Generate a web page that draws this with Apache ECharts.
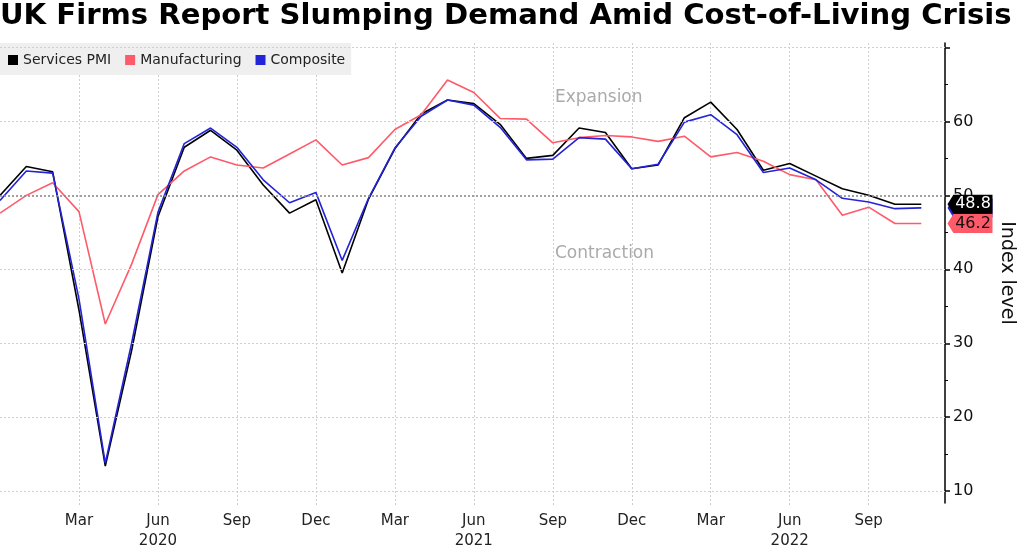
<!DOCTYPE html>
<html><head><meta charset="utf-8">
<script src="https://cdn.jsdelivr.net/npm/echarts@6/dist/echarts.min.js"></script>
<style>html,body{margin:0;padding:0;background:#fff}#c{width:1019px;height:550px}</style>
</head><body><div id="c"></div>
<script>
// Monthly, Dec 2019 .. Nov 2022 (index 0 = Dec 2019)
const months = ['Dec 2019','Jan 2020','Feb 2020','Mar 2020','Apr 2020','May 2020','Jun 2020','Jul 2020','Aug 2020','Sep 2020','Oct 2020','Nov 2020',
  'Dec 2020','Jan 2021','Feb 2021','Mar 2021','Apr 2021','May 2021','Jun 2021','Jul 2021','Aug 2021','Sep 2021','Oct 2021','Nov 2021',
  'Dec 2021','Jan 2022','Feb 2022','Mar 2022','Apr 2022','May 2022','Jun 2022','Jul 2022','Aug 2022','Sep 2022','Oct 2022','Nov 2022'];
const services = [50.0,53.9,53.2,34.5,13.4,29.0,47.1,56.5,58.8,56.1,51.4,47.6,
  49.4,39.5,49.5,56.3,61.0,62.9,62.4,59.6,55.0,55.4,59.1,58.5,
  53.6,54.1,60.5,62.6,58.9,53.4,54.3,52.6,50.9,50.0,48.8,48.8];
const manufacturing = [47.6,50.0,51.7,47.8,32.6,40.7,50.1,53.3,55.2,54.1,53.7,55.6,
  57.5,54.1,55.1,58.9,60.9,65.6,63.9,60.4,60.3,57.1,57.8,58.1,
  57.9,57.3,58.0,55.2,55.8,54.6,52.8,52.1,47.3,48.4,46.2,46.2];
const composite = [49.3,53.3,53.0,36.0,13.8,30.0,47.7,57.0,59.1,56.5,52.1,49.0,
  50.4,41.2,49.6,56.4,60.7,62.9,62.2,59.2,54.8,54.9,57.8,57.6,
  53.6,54.2,59.9,60.9,58.2,53.1,53.7,52.1,49.6,49.1,48.2,48.3];
const seriesNames = ['Services PMI','Manufacturing','Composite'];
const xTickIdx = [3,6,9,12,15,18,21,24,27,30,33];
const xTickLabels = ['Mar','Jun\n2020','Sep','Dec','Mar','Jun\n2021','Sep','Dec','Mar','Jun\n2022','Sep'];
const yTicks = [10,20,30,40,50,60,70];
const yLabels = [10,20,30,40,50,60];
const yMinorTicks = [15,25,35,45,55,65];
const yGrid = [10,20,30,40,60,70];
const threshold = 50;

const X_MAX = 35.9;
const colors = ['#000000','#ff5a69','#2323d8'];
const font = 'DejaVu Sans';
const arrow = 'path://M0,9.5 L6,0 L46,0 L46,19 L6,19 Z';

function endLabel(arr, bg, fg, z) {
  const v = arr[arr.length - 1];
  return {
    silent: true, z: z,
    symbol: arrow, symbolSize: [45, 19], symbolOffset: [25, 0], symbolKeepAspect: false,
    itemStyle: { color: bg },
    label: { show: true, position: 'inside', offset: [3, 0], color: fg, fontSize: 16, fontFamily: font,
      formatter: () => v.toFixed(1) },
    data: [{ coord: [X_MAX, v], value: v }]
  };
}

const chart = echarts.init(document.getElementById('c'), null, { renderer: 'canvas' });
chart.setOption({
  animation: false,
  backgroundColor: '#fff',
  title: {
    text: 'UK Firms Report Slumping Demand Amid Cost-of-Living Crisis',
    left: 0, top: 2, padding: 0,
    textStyle: { fontFamily: font, fontWeight: 'bold', fontSize: 29.1, color: '#000' }
  },
  legend: {
    data: [seriesNames[0], { name: seriesNames[1], textStyle: { width: 97 } }, seriesNames[2]],
    left: 0, top: 43, padding: [10, 6, 8, 8], itemGap: 14,
    itemWidth: 10, itemHeight: 10, icon: 'rect',
    backgroundColor: '#efefef',
    textStyle: { fontFamily: font, fontSize: 14, color: '#222' }
  },
  grid: { left: 0, right: 74, top: 43, bottom: 47, containLabel: false, outerBoundsMode: 'none' },
  xAxis: {
    type: 'value', min: 0, max: X_MAX, interval: 3,
    axisLine: { show: false, onZero: false },
    axisTick: { show: true, length: 4, customValues: xTickIdx, lineStyle: { color: '#c8c8c8', type: [2, 2] } },
    axisLabel: { customValues: xTickIdx, margin: 8, fontFamily: font, fontSize: 15, color: '#222', lineHeight: 20,
      formatter: v => { const i = xTickIdx.indexOf(v); return i >= 0 ? xTickLabels[i] : ''; } },
    splitLine: { show: true, lineStyle: { color: '#cfcfcf', type: [2, 2], width: 1 } }
  },
  yAxis: [{
    type: 'value', position: 'right', min: 8.4, max: 70.6,
    axisLine: { show: true, onZero: false, lineStyle: { color: '#000', width: 1.5 } },
    axisTick: { show: true, length: 5, customValues: yTicks, lineStyle: { color: '#000', width: 1.5 } },
    axisLabel: { customValues: yLabels, margin: 8, fontFamily: font, fontSize: 16, color: '#111' },
    splitLine: { show: false },
    name: 'Index level', nameLocation: 'middle', nameRotate: -90, nameGap: 52,
    nameTextStyle: { fontFamily: font, fontSize: 19, color: '#111' }
  }, {
    type: 'value', position: 'right', min: 8.4, max: 70.6, offset: 0,
    axisLine: { show: false, onZero: false },
    axisTick: { show: true, length: 3, customValues: yMinorTicks, lineStyle: { color: '#000', width: 1 } },
    axisLabel: { show: false }, splitLine: { show: false }
  }],
  graphic: [
    { type: 'text', left: 555, top: 89, style: { text: 'Expansion', fontFamily: font, fontSize: 17, fill: '#aaaaaa' } },
    { type: 'text', left: 555, top: 245, style: { text: 'Contraction', fontFamily: font, fontSize: 17, fill: '#aaaaaa' } }
  ],
  series: [
    {
      type: 'line', name: '_grid', data: [], silent: true, z: 1,
      markLine: {
        silent: true, symbol: 'none', label: { show: false },
        data: yGrid.map(v => ({ yAxis: v, lineStyle: { color: '#d0d0d0', type: [2, 2], width: 1 } }))
          .concat([{ yAxis: threshold, lineStyle: { color: '#8a8a8a', type: [2, 2], width: 1.6 } }])
      }
    },
    {
      type: 'line', name: seriesNames[0], data: services.map((v, i) => [i, v]), z: 3,
      symbol: 'none', lineStyle: { color: colors[0], width: 1.6 }, itemStyle: { color: colors[0] },
      markPoint: endLabel(services, colors[0], '#fff', 12)
    },
    {
      type: 'line', name: seriesNames[1], data: manufacturing.map((v, i) => [i, v]), z: 3,
      symbol: 'none', lineStyle: { color: colors[1], width: 1.6 }, itemStyle: { color: colors[1] },
      markPoint: endLabel(manufacturing, colors[1], '#111', 13)
    },
    {
      type: 'line', name: seriesNames[2], data: composite.map((v, i) => [i, v]), z: 3,
      symbol: 'none', lineStyle: { color: colors[2], width: 1.6 }, itemStyle: { color: colors[2] },
      markPoint: endLabel(composite, colors[2], '#fff', 11)
    }
  ]
});
</script></body></html>
